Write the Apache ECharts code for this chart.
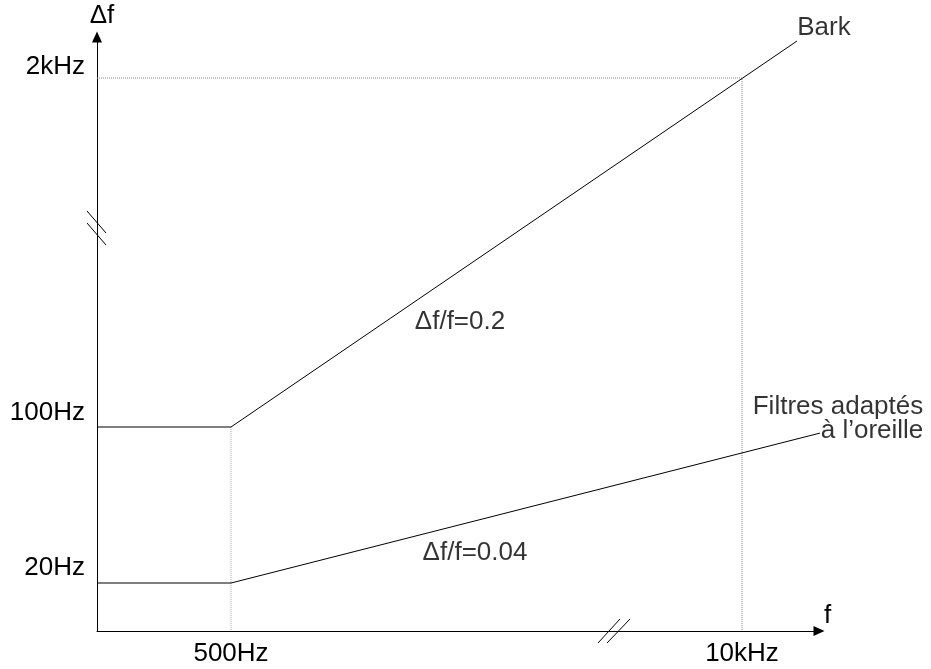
<!DOCTYPE html>
<html>
<head>
<meta charset="utf-8">
<script src="https://cdn.jsdelivr.net/npm/echarts@6/dist/echarts.min.js"></script>
<style>
html,body{margin:0;padding:0;background:#fff;}
#chart{width:931px;height:669px;}
</style>
</head>
<body>
<div id="chart"></div>
<script>
// Schematic axis units (arbitrary linear positions)
const xTickValues = [134, 645];
const xTickLabels = ['500Hz', '10kHz'];
const yTickValues = [48, 204, 553];
const yTickLabels = ['20Hz', '100Hz', '2kHz'];

const barkX = [0, 134, 700];
const barkY = [204, 204, 590];
const filtresX = [0, 134, 743];
const filtresY = [48, 48, 203];

const guide2kX = [0, 645, 645];
const guide2kY = [553, 553, 0];
const guide500X = [134, 134];
const guide500Y = [204, 0];

const annText = ['Bark', '\u0394f/f=0.2', '\u0394f/f=0.04', 'Filtres adapt\u00e9s', '\u00e0 l\u2019oreille'];
const annX = [727, 363, 378, 741, 775];
const annY = [603, 309, 78, 224, 200];

const xBreak = [517];
const yBreak = [403];

const FONT = "'Liberation Sans', Arial, sans-serif";
const FS = 26;

function pairs(xs, ys) { return xs.map((x, i) => [x, ys[i]]); }

const chart = echarts.init(document.getElementById('chart'), null, {renderer: 'canvas'});

function breakRender(kind) {
  return function (params, api) {
    const p = api.coord([api.value(0), api.value(1)]);
    const st = {stroke: '#000', lineWidth: 1};
    let segs;
    if (kind === 'x') {
      segs = [[-16, 12, 6, -12], [-7, 12, 16, -12]];
    } else {
      segs = [[-10, -17, 9, 5], [-10, -5, 9, 17]];
    }
    return {
      type: 'group',
      children: segs.map(s => ({
        type: 'line',
        shape: {x1: p[0] + s[0], y1: p[1] + s[1], x2: p[0] + s[2], y2: p[1] + s[3]},
        style: st
      }))
    };
  };
}

const option = {
  backgroundColor: '#fff',
  animation: false,
  textStyle: {fontFamily: FONT},
  grid: {left: 97, right: 112, top: 37, bottom: 38, outerBoundsMode: 'none'},
  xAxis: {
    type: 'value', min: 0, max: 722,
    name: 'f', nameLocation: 'end', nameGap: 5,
    nameTextStyle: {fontSize: FS, color: '#000', fontFamily: FONT, verticalAlign: 'bottom', lineHeight: 30},
    axisLine: {show: true, lineStyle: {color: '#000', width: 1}, symbol: ['none', 'triangle'], symbolSize: [10, 11]},
    axisTick: {show: false},
    splitLine: {show: false},
    axisLabel: {
      show: true, customValues: xTickValues, margin: 10,
      fontSize: FS, color: '#000', fontFamily: FONT,
      formatter: v => xTickLabels[xTickValues.indexOf(v)] || ''
    }
  },
  yAxis: {
    type: 'value', min: 0, max: 594,
    name: '\u0394f', nameLocation: 'end', nameGap: 8,
    nameTextStyle: {fontSize: FS, color: '#000', fontFamily: FONT, padding: [0, 0, 0, 10]},
    axisLine: {show: true, lineStyle: {color: '#000', width: 1}, symbol: ['none', 'triangle'], symbolSize: [10, 11]},
    axisTick: {show: false},
    splitLine: {show: false},
    axisLabel: {
      show: true, customValues: yTickValues, margin: 12,
      fontSize: FS, color: '#000', fontFamily: FONT,
      verticalAlign: 'bottom',
      rich: {
        lo: {fontSize: FS, color: '#000', fontFamily: FONT, lineHeight: 30},
        mid: {fontSize: FS, color: '#000', fontFamily: FONT, lineHeight: 28},
        hi: {fontSize: FS, color: '#000', fontFamily: FONT, lineHeight: 22}
      },
      formatter: v => {
        const i = yTickValues.indexOf(v);
        if (i < 0) return '';
        return '{' + ['lo', 'mid', 'hi'][i] + '|' + yTickLabels[i] + '}';
      }
    }
  },
  series: [
    {
      type: 'line', data: pairs(guide2kX, guide2kY), symbol: 'none', clip: false,
      lineStyle: {color: '#888', width: 1, type: [1, 1]}, z: 1
    },
    {
      type: 'line', data: pairs(guide500X, guide500Y), symbol: 'none', clip: false,
      lineStyle: {color: '#aaa', width: 1, type: [1, 1]}, z: 1
    },
    {
      name: 'Bark', type: 'line', data: pairs(barkX, barkY), symbol: 'none', clip: false,
      lineStyle: {color: '#000', width: 1}, z: 3
    },
    {
      name: 'Filtres', type: 'line', data: pairs(filtresX, filtresY), symbol: 'none', clip: false,
      lineStyle: {color: '#000', width: 1}, z: 3
    },
    {
      type: 'scatter', symbolSize: 0, clip: false, silent: true,
      data: annX.map((x, i) => ({value: [x, annY[i]], name: annText[i]})),
      label: {
        show: true, position: 'inside', formatter: p => p.name,
        fontSize: FS, color: '#000', fontFamily: FONT
      }, z: 5
    },
    {type: 'custom', data: xBreak.map(v => [v, 0]), renderItem: breakRender('x'), clip: false, z: 6},
    {type: 'custom', data: yBreak.map(v => [0, v]), renderItem: breakRender('y'), clip: false, z: 6}
  ]
};
chart.setOption(option);
</script>
</body>
</html>
